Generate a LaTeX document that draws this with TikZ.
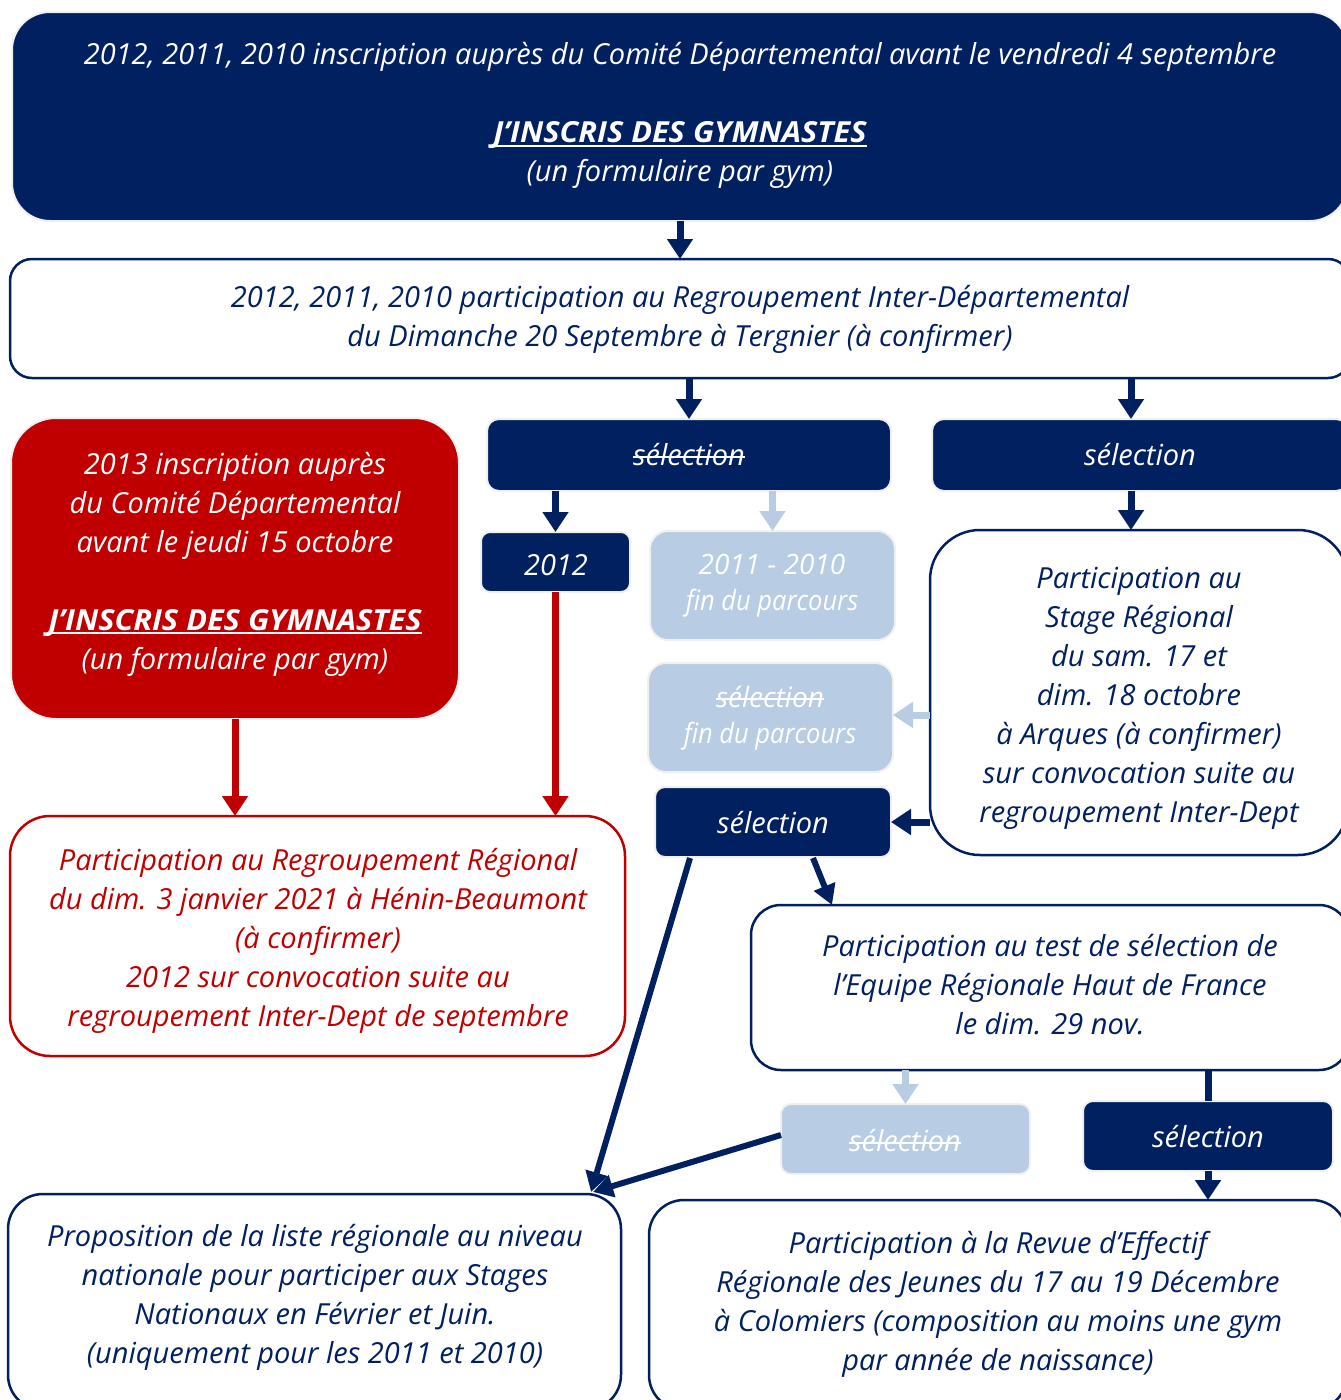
\documentclass[tikz,border=0pt]{standalone}
\usepackage{fontspec}
\usepackage{graphicx}
\setmainfont{Open Sans}
\usetikzlibrary{arrows.meta,calc}
\definecolor{navy}{RGB}{0,32,96}
\definecolor{dred}{RGB}{192,0,0}
\definecolor{lblue}{RGB}{184,204,228}
\newsavebox\mybx
\newcommand\mystrike[1]{\sbox\mybx{#1}\rlap{\raisebox{0.27em}{\rule{\wd\mybx}{1.8pt}}}\usebox\mybx}
\newcommand\myul[1]{\sbox\mybx{#1}\rlap{\raisebox{-4pt}{\rule{\wd\mybx}{2pt}}}\usebox\mybx}
\newcommand\bigtitle{{\bfseries\myul{\scalebox{1.06}[1]{J’INSCRIS DES GYMNASTES}}}}
\begin{document}
\begin{tikzpicture}[x=1pt,y=-1pt,
  every node/.style={inner sep=0pt, outer sep=0pt},
  dbox/.style={fill=navy, draw=black!6, line width=2pt},
  lbox/.style={fill=lblue, draw=black!6, line width=2pt},
  rbox/.style={fill=dred, draw=black!6, line width=2pt},
  wbox/.style={fill=white, draw=navy, line width=2.5pt},
  wrbox/.style={fill=white, draw=dred, line width=2.5pt},
  txt/.style={align=center, font=\fontsize{29}{39}\selectfont\itshape},
  arr/.style={draw=navy, line width=7pt, -{Triangle[width=25pt,length=20pt]}},
  larr/.style={draw=lblue, line width=7pt, -{Triangle[width=25pt,length=20pt]}},
  rarr/.style={draw=dred, line width=7pt, -{Triangle[width=25pt,length=20pt]}},
  darr/.style={draw=navy, line width=6pt, -{Triangle[width=22pt,length=20pt]}},
]
\clip (0,0) rectangle (1341,1400);
\useasboundingbox (0,0) rectangle (1341,1400);
\fill[white] (0,0) rectangle (1341,1400);

% boxes
\node[dbox, rounded corners=38pt, minimum width=1336pt, minimum height=209pt] (A) at (680,116.5) {};
\node[wbox, rounded corners=22pt, minimum width=1340pt, minimum height=119pt] (B) at (680,318.5) {};
\node[dbox, rounded corners=12pt, minimum width=404pt, minimum height=72pt] (sel1) at (689,455) {};
\node[dbox, rounded corners=12pt, minimum width=416pt, minimum height=72pt] (sel2) at (1140,455) {};
\node[rbox, rounded corners=45pt, minimum width=448pt, minimum height=301pt] (R1) at (235,568.5) {};
\node[dbox, rounded corners=9pt, minimum width=149pt, minimum height=60pt] (n2012) at (555.5,562) {};
\node[lbox, rounded corners=18pt, minimum width=245pt, minimum height=109pt] (L1) at (772.5,585.5) {};
\node[lbox, rounded corners=18pt, minimum width=245pt, minimum height=109pt] (L2) at (770.5,717.5) {};
\node[wbox, rounded corners=50pt, minimum width=418pt, minimum height=325pt] (Stage) at (1139,692.5) {};
\node[dbox, rounded corners=10pt, minimum width=236pt, minimum height=70pt] (sel3) at (773,822) {};
\node[wrbox, rounded corners=40pt, minimum width=615pt, minimum height=240pt] (R2) at (317.5,936) {};
\node[wbox, rounded corners=30pt, minimum width=598pt, minimum height=165pt] (Test) at (1050,987.5) {};
\node[lbox, rounded corners=10pt, minimum width=249pt, minimum height=70pt] (L3) at (905.5,1139) {};
\node[dbox, rounded corners=10pt, minimum width=250pt, minimum height=70pt] (sel4) at (1208,1136) {};
\node[wbox, rounded corners=35pt, minimum width=613pt, minimum height=216pt] (Prop) at (314.5,1302) {};
\node[wbox, rounded corners=35pt, minimum width=698pt, minimum height=210pt] (Revue) at (998,1305) {};

% texts
\node[txt, text=white] (At) at (680,115.5) {2012, 2011, 2010 inscription auprès du Comité Départemental avant le vendredi 4 septembre\\[39pt]
  \bigtitle\\(un formulaire par gym)};
\node[txt, text=navy] (Bt) at (680,319.5) {2012, 2011, 2010 participation au Regroupement Inter-Départemental\\du Dimanche 20 Septembre à Tergnier (à confirmer)};
\node[txt, text=white] (sel1t) at (689,455) {\mystrike{sélection}};
\node[txt, text=white] (sel2t) at (1140,455) {sélection};
\node[txt, text=white] (R1t) at (235,564) {2013 inscription auprès\\du Comité Départemental\\avant le jeudi 15 octobre\\[39pt]
  \bigtitle\\(un formulaire par gym)};
\node[txt, text=white] (n2012t) at (556,565) {2012};
\node[txt, text=white, font=\fontsize{28}{36}\selectfont\itshape] (L1t) at (772,586) {2011 - 2010\\\scalebox{0.91}[1]{fin du parcours}};
\node[txt, text=white, font=\fontsize{28}{36}\selectfont\itshape] (L2t) at (770,718) {\mystrike{sélection}\\\scalebox{0.91}[1]{fin du parcours}};
\node[txt, text=navy] (Staget) at (1139,698) {Participation au\\Stage Régional\\du sam. 17 et\\dim. 18 octobre\\à Arques (à confirmer)\\sur convocation suite au\\regroupement Inter-Dept};
\node[txt, text=white] (sel3t) at (773,823) {sélection};
\node[txt, text=dred] (R2t) at (318,941) {Participation au Regroupement Régional\\du dim. 3 janvier 2021 à Hénin-Beaumont\\(à confirmer)\\2012 sur convocation suite au\\regroupement Inter-Dept de septembre};
\node[txt, text=navy] (Testt) at (1050,985) {Participation au test de sélection de\\l’Equipe Régionale Haut de France\\le dim. 29 nov.};
\node[txt, text=white] (L3t) at (905,1141) {\mystrike{sélection}};
\node[txt, text=white] (sel4t) at (1208,1137) {sélection};
\node[txt, text=navy] (Propt) at (315,1297.5) {Proposition de la liste régionale au niveau\\nationale pour participer aux Stages\\Nationaux en Février et Juin.\\(uniquement pour les 2011 et 2010)};
\node[txt, text=navy] (Revuet) at (998,1304.5) {Participation à la Revue d’Effectif\\Régionale des Jeunes du 17 au 19 Décembre\\à Colomiers (composition au moins une gym\\par année de naissance)};

% helper coordinates
\coordinate (xB2) at (1131,0);

% connectors
\draw[arr] (A.south) -- (A.south |- B.north);
\draw[arr] (sel1.north |- B.south) -- (sel1.north);
\draw[arr] (B.south -| xB2) -- (sel2.north -| xB2);
\draw[arr] (sel1.south -| n2012.north) -- (n2012.north);
\draw[larr] (sel1.south -| L1.north) -- (L1.north);
\draw[arr] (sel2.south -| xB2) -- (Stage.north -| xB2);
\draw[rarr] (R1.south) -- (R1.south |- R2.north);
\draw[rarr] (n2012.south) -- (n2012.south |- R2.north);
\draw[larr] ($(Stage.west)+(0,22.5)$) -- ($(L2.east)+(0,-2.5)$);
\draw[arr] (sel3.east -| Stage.west) -- (sel3.east);
\draw[darr] ($(sel3.south)+(40,1)$) -- ($(Test.north west)+(81,0)$);
\draw[darr] ($(sel3.south)+(-83,1)$) -- ($(Prop.north east)+(-30,-2)$);
\draw[darr] ($(L3.west)+(0,-4)$) -- ($(Prop.north east)+(-28,-2)$);
\draw[larr] (L3.north |- Test.south) -- (L3.north);
\draw[navy, line width=7pt] (sel4.north |- Test.south) -- (sel4.north);
\draw[arr] (sel4.south) -- (sel4.south |- Revue.north);
\end{tikzpicture}
\end{document}
